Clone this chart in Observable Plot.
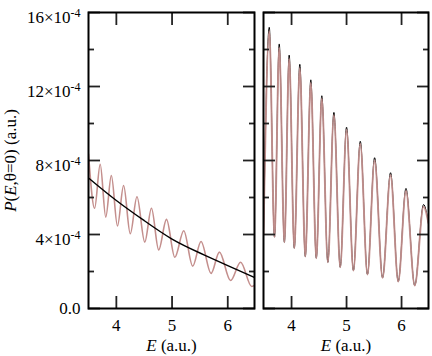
<!DOCTYPE html>
<html><head><meta charset="utf-8">
<script src="https://cdn.jsdelivr.net/npm/d3@7"></script>
<script src="https://cdn.jsdelivr.net/npm/@observablehq/plot@0.6"></script>
<style>
body{margin:0;background:#fff;}
#c{position:relative;width:432px;height:356px;}
#c svg{position:absolute;top:0;font-family:"Liberation Serif","Times New Roman",serif !important;font-size:17px !important;}
#c svg text, #c svg tspan{font-family:"Liberation Serif","Times New Roman",serif !important;}
</style></head><body><div id="c"></div>
<script>
// values of P in units of 1e-4 (a.u.)
const leftOscE = [3.50, 3.61, 3.71, 3.81, 3.91, 4.02, 4.13, 4.25, 4.37, 4.51, 4.63, 4.76, 4.90, 5.05, 5.21, 5.37, 5.52, 5.70, 5.85, 6.05, 6.23, 6.43, 6.48];
const leftOscP = [8.35, 5.42, 7.80, 4.94, 7.19, 4.46, 6.65, 4.04, 6.04, 3.59, 5.42, 3.17, 4.82, 2.77, 4.20, 2.29, 3.62, 1.90, 3.05, 1.51, 2.50, 1.19, 1.25];
const leftSmoothE = [3.5, 4.0, 4.5, 5.0, 5.5, 6.0, 6.48];
const leftSmoothP = [7.06, 5.84, 4.75, 3.75, 3.00, 2.32, 1.68];

const rightE = [3.49, 3.595, 3.69, 3.776, 3.87, 3.957, 4.05, 4.15, 4.25, 4.35, 4.45, 4.55, 4.66, 4.77, 4.885, 5.0, 5.125, 5.25, 5.38, 5.51, 5.655, 5.80, 5.94, 6.08, 6.24, 6.40, 6.49];
const rightBlackP = [4.0, 15.2, 3.86, 14.3, 3.58, 13.7, 3.26, 13.2, 2.81, 12.36, 2.72, 11.5, 2.5, 10.6, 2.23, 9.8, 2.05, 9.04, 1.84, 8.15, 1.66, 7.34, 1.46, 6.49, 1.24, 5.62, 4.6];
const rightPinkP  = [4.0, 15.0, 3.86, 14.1, 3.58, 13.5, 3.26, 13.0, 2.81, 12.2, 2.72, 11.35, 2.5, 10.45, 2.23, 9.65, 2.05, 8.9, 1.84, 8.0, 1.66, 7.2, 1.46, 6.35, 1.24, 5.5, 4.6];

const yMajor = [0, 4, 8, 12, 16];
const yMinor = [2, 6, 10, 14];
const xTicks = [4, 5, 6];
const xLabel = "E (a.u.)";
const yLabel = "P(E,θ=0) (a.u.)";

const pink = "#c48f8d";
const toRows = (E, P) => E.map((e, i) => ({E: e, P: P[i]}));

function panel({width, ml, mr, xdom, lines, showY}) {
  const blank = () => "";
  const tickStyle = {stroke: "#222", strokeWidth: 1.8, label: null};
  const marks = [
    ...lines,
    Plot.axisX({ticks: xTicks, anchor: "bottom", tickSize: -12, tickPadding: 22, tickFormat: d => String(d), fontSize: 17, ...tickStyle}),
    Plot.axisX({ticks: xTicks, anchor: "top", tickSize: -12, tickFormat: blank, ...tickStyle}),
    Plot.axisY({ticks: yMajor, anchor: "left", tickSize: -12, tickPadding: 20, fontSize: 17,
      tickFormat: showY ? (v => v === 0 ? "0.0" : `${v}×10^-4`) : blank, ...tickStyle}),
    Plot.axisY({ticks: yMinor, anchor: "left", tickSize: -6, tickFormat: blank, ...tickStyle}),
    Plot.axisY({ticks: yMajor, anchor: "right", tickSize: -12, tickFormat: blank, ...tickStyle}),
    Plot.axisY({ticks: yMinor, anchor: "right", tickSize: -6, tickFormat: blank, ...tickStyle}),
    Plot.frame({stroke: "#000", strokeWidth: 2}),
    Plot.text([xLabel], {text: d => d, frameAnchor: "bottom", textAnchor: "middle", lineAnchor: "middle", dy: 37, fontSize: 17})
  ];
  if (showY) marks.push(Plot.text([yLabel], {text: d => d, frameAnchor: "left", textAnchor: "middle", lineAnchor: "middle", rotate: -90, dx: -78, fontSize: 17}));
  const svg = Plot.plot({
    width, height: 356,
    marginLeft: ml, marginRight: mr, marginTop: 12, marginBottom: 48,
    x: {domain: xdom},
    y: {domain: [0, 16]},
    style: {background: "transparent", color: "#000"},
    marks
  });
  svg.querySelectorAll("text").forEach(t => {
    const s = t.textContent;
    if (s.includes("×10^")) {
      const [base, exp] = s.split("^");
      t.innerHTML = `<tspan dy="5">${base}</tspan><tspan dy="-6" font-size="12">${exp}</tspan>`;
    } else if (s === xLabel) {
      t.innerHTML = `<tspan font-style="italic">E</tspan> (a.u.)`;
    } else if (s === yLabel) {
      t.innerHTML = `<tspan font-style="italic">P</tspan>(<tspan font-style="italic">E</tspan>,θ=0) (a.u.)`;
    }
  });
  return svg;
}

const left = panel({
  width: 258, ml: 88, mr: 4, xdom: [3.5, 6.48], showY: true,
  lines: [
    Plot.line(toRows(leftOscE, leftOscP), {x: "E", y: "P", stroke: pink, strokeWidth: 1.6, curve: "monotone-x", clip: true}),
    Plot.line(toRows(leftSmoothE, leftSmoothP), {x: "E", y: "P", stroke: "#000", strokeWidth: 1.4, curve: "natural", clip: true})
  ]
});
const right = panel({
  width: 174, ml: 5, mr: 4, xdom: [3.49, 6.49], showY: false,
  lines: [
    Plot.line(toRows(rightE, rightBlackP), {x: "E", y: "P", stroke: "#000", strokeWidth: 1.0, curve: "monotone-x", clip: true}),
    Plot.line(toRows(rightE, rightPinkP), {x: "E", y: "P", stroke: pink, strokeWidth: 1.9, strokeOpacity: 0.92, curve: "monotone-x", clip: true})
  ]
});
right.style.left = "258px";
left.style.left = "0px";
document.getElementById("c").append(left, right);
</script></body></html>
